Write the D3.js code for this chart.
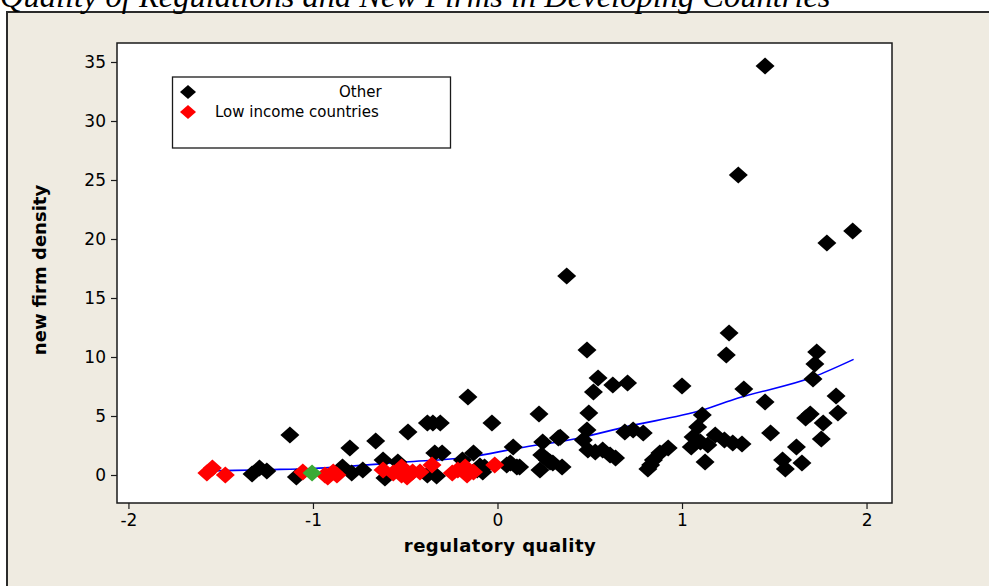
<!DOCTYPE html>
<html>
<head>
<meta charset="utf-8">
<script src="https://cdn.jsdelivr.net/npm/d3@7"></script>
<style>
  html, body { margin: 0; padding: 0; background: #ffffff; overflow: hidden; }
  svg { display: block; }
</style>
</head>
<body>
<svg id="chart" width="989" height="586"></svg>
<script>
// ---------------- DATA ----------------
const titleText = "Quality of Regulations and New Firms in Developing Countries";
const xTitle = "regulatory quality";
const yTitle = "new firm density";
const xTicks = [-2, -1, 0, 1, 2];
const yTicks = [0, 5, 10, 15, 20, 25, 30, 35];
const legendLabels = ["Other", "Low income countries"];

// "Other" countries
const otherX = [-1.125,-1.33,-1.29,-1.25,-1.09,-0.80,-0.66,-0.485,-0.84,-0.79,-0.73,-0.62,-0.61,-0.54,
  -0.38,-0.35,-0.31,-0.34,-0.30,-0.13,-0.16,-0.03,-0.33,-0.38,-0.19,-0.11,-0.07,0.05,0.105,0.085,
  0.545,0.625,0.705,0.52,0.225,0.495,0.485,0.33,0.245,0.465,0.49,0.53,0.57,0.61,0.64,
  0.24,0.27,0.30,0.35,0.23,0.12,0.07,1.0,0.69,0.735,0.79,1.11,1.085,1.06,1.18,1.23,1.10,1.14,1.275,
  1.05,1.125,0.925,0.88,0.845,0.83,0.815,1.325,0.375,0.485,1.255,1.24,1.335,1.45,1.73,1.72,1.71,
  1.835,1.845,1.695,1.67,1.765,1.755,1.48,1.62,1.545,1.56,1.65,1.45,1.305,1.785,1.925,-0.095,-0.08,
  0.285,0.34];
const otherY = [3.39,0.08,0.59,0.34,-0.17,2.29,2.88,3.64,0.68,0.17,0.42,1.27,-0.25,1.10,
  4.41,4.41,4.41,1.86,1.86,1.86,6.61,4.41,-0.08,0.0,1.27,0.42,0.68,0.85,0.68,2.37,
  8.22,7.63,7.80,7.03,5.17,5.25,3.81,3.14,2.80,2.97,2.12,1.95,2.12,1.69,1.44,
  1.69,1.27,1.02,0.68,0.42,0.68,1.02,7.54,3.64,3.81,3.56,5.08,4.07,3.22,3.39,2.97,2.80,2.54,2.71,
  2.37,1.10,2.29,1.86,1.27,0.85,0.51,2.63,16.86,10.59,12.03,10.17,7.29,6.19,10.42,9.41,8.14,
  6.69,5.25,5.17,4.83,4.41,3.05,3.56,2.37,1.27,0.51,1.02,34.66,25.42,19.66,20.68,0.76,0.25,
  1.10,3.20];

// Low income countries
const lowX = [-1.545,-1.575,-1.475,-1.055,-0.935,-0.89,-0.92,-0.87,-0.62,-0.565,-0.52,-0.49,-0.46,-0.42,
  -0.355,-0.245,-0.215,-0.175,-0.165,-0.13,-0.015,-0.52];
const lowY = [0.59,0.17,0.0,0.25,0.0,0.25,-0.17,0.0,0.42,0.17,0.68,-0.17,0.25,0.25,
  0.85,0.17,0.42,0.68,0.0,0.25,0.85,0.0];

// single highlighted (green) point
const greenX = [-1.005];
const greenY = [0.17];

// fitted curve
const fitX = [-1.55,-1.25,-1.0,-0.5,-0.16,0.12,0.43,0.7,1.11,1.3,1.71,1.93];
const fitY = [0.35,0.45,0.55,1.1,1.5,2.3,3.1,4.1,5.5,6.5,8.3,9.8];

// ---------------- LAYOUT ----------------
const svg = d3.select("#chart");
const plot = { left: 117, right: 892, top: 43, bottom: 503 };

const x = d3.scaleLinear().domain([-2.062, 2.138]).range([plot.left, plot.right]);
const y = d3.scaleLinear().domain([-2.373, 36.61]).range([plot.bottom, plot.top]);

// outer frame
svg.append("rect").attr("x", 7).attr("y", 12).attr("width", 1000).attr("height", 600)
  .attr("fill", "#EFEBE1").attr("stroke", "#2b2b2b").attr("stroke-width", 2);

// title (cut off at top, as in the source)
svg.append("text").attr("x", 0).attr("y", 7)
  .attr("font-family", "Liberation Serif, Times New Roman, serif")
  .attr("font-style", "italic").attr("font-size", 32.5).attr("fill", "#000")
  .text(titleText);

// plot area
svg.append("rect").attr("x", plot.left).attr("y", plot.top)
  .attr("width", plot.right - plot.left).attr("height", plot.bottom - plot.top)
  .attr("fill", "#ffffff").attr("stroke", "#1a1a1a").attr("stroke-width", 1.5);

// axes
const fmt = d => String(d);
const yAxis = svg.append("g").attr("transform", `translate(${plot.left},0)`)
  .call(d3.axisLeft(y).tickValues(yTicks).tickSize(6).tickPadding(5).tickFormat(fmt));
const xAxis = svg.append("g").attr("transform", `translate(0,${plot.bottom})`)
  .call(d3.axisBottom(x).tickValues(xTicks).tickSize(6).tickPadding(5).tickFormat(fmt));
[xAxis, yAxis].forEach(g => {
  g.select(".domain").remove();
  g.selectAll(".tick line").attr("stroke", "#1a1a1a").attr("stroke-width", 1.2);
  g.selectAll(".tick text").attr("font-family", "DejaVu Sans, Verdana, sans-serif")
    .attr("font-size", 17).attr("fill", "#000");
});

// axis titles
svg.append("text").attr("x", 500).attr("y", 552).attr("text-anchor", "middle")
  .attr("font-family", "DejaVu Sans, Verdana, sans-serif").attr("font-weight", "bold")
  .attr("font-size", 18).attr("letter-spacing", 0.5).attr("fill", "#000").text(xTitle);
svg.append("text").attr("transform", "translate(46,270) rotate(-90)").attr("text-anchor", "middle")
  .attr("font-family", "DejaVu Sans, Verdana, sans-serif").attr("font-weight", "bold")
  .attr("font-size", 18).attr("fill", "#000").text(yTitle);

// diamond marker
function diamond(w, h) {
  return `M0,${-h}L${w},0L0,${h}L${-w},0Z`;
}
svg.append("clipPath").attr("id", "clipPlot").append("rect")
  .attr("x", plot.left).attr("y", plot.top).attr("width", plot.right - plot.left).attr("height", plot.bottom - plot.top);

const marks = svg.append("g").attr("clip-path", "url(#clipPlot)");

const otherData = otherX.map((v, i) => ({ x: v, y: otherY[i] }));
const lowData = lowX.map((v, i) => ({ x: v, y: lowY[i] }));
const greenData = greenX.map((v, i) => ({ x: v, y: greenY[i] }));

// fitted curve
const fitData = fitX.map((v, i) => ({ x: v, y: fitY[i] }));
marks.append("path").datum(fitData)
  .attr("d", d3.line().x(d => x(d.x)).y(d => y(d.y)).curve(d3.curveMonotoneX))
  .attr("fill", "none").attr("stroke", "#0000FF").attr("stroke-width", 1.6);

marks.selectAll(".other").data(otherData).enter().append("path")
  .attr("d", diamond(9.5, 8.5)).attr("transform", d => `translate(${x(d.x)},${y(d.y)})`)
  .attr("fill", "#000000");
marks.selectAll(".low").data(lowData).enter().append("path")
  .attr("d", diamond(9.5, 8.5)).attr("transform", d => `translate(${x(d.x)},${y(d.y)})`)
  .attr("fill", "#FF0000");
marks.selectAll(".green").data(greenData).enter().append("path")
  .attr("d", diamond(9.5, 8.5)).attr("transform", d => `translate(${x(d.x)},${y(d.y)})`)
  .attr("fill", "#3AAA35");

// legend
const lg = svg.append("g");
lg.append("rect").attr("x", 172.5).attr("y", 77).attr("width", 278).attr("height", 71)
  .attr("fill", "#ffffff").attr("stroke", "#1a1a1a").attr("stroke-width", 1.3);
const legendColors = ["#000000", "#FF0000"];
const legendY = [92, 112];
const legendTextX = [339, 215];
legendLabels.forEach((lab, i) => {
  lg.append("path").attr("d", diamond(8, 7)).attr("transform", `translate(188,${legendY[i]})`)
    .attr("fill", legendColors[i]);
  lg.append("text").attr("x", legendTextX[i]).attr("y", legendY[i] + 5)
    .attr("font-family", "DejaVu Sans, Verdana, sans-serif").attr("font-size", 15).attr("fill", "#000")
    .text(lab);
});
</script>
</body>
</html>
